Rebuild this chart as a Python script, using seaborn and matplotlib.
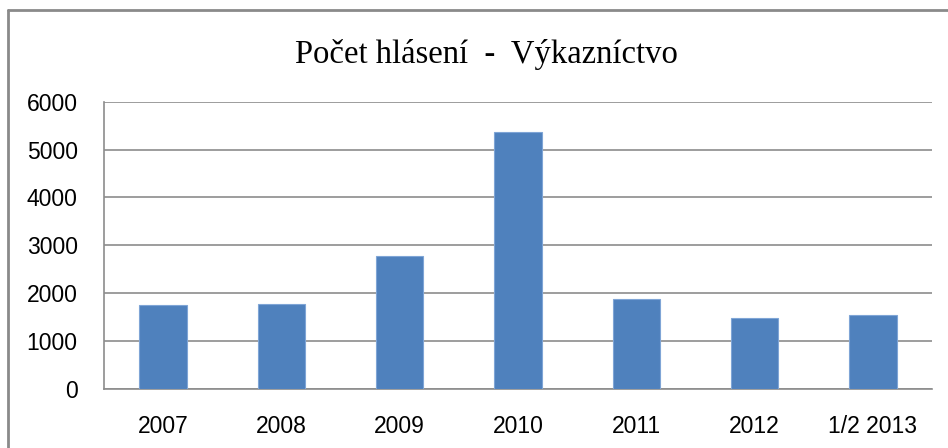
import matplotlib
matplotlib.use("Agg")
import matplotlib.pyplot as plt
import seaborn as sns
import numpy as np
import pandas as pd
from matplotlib.lines import Line2D

categories = ["2007", "2008", "2009", "2010", "2011", "2012", "1/2 2013"]
values = [1745, 1765, 2770, 5358, 1882, 1478, 1535]
yticks = [0, 1000, 2000, 3000, 4000, 5000, 6000]
title = "Počet hlásení  -  Výkazníctvo"

sns.set_style("white")
plt.rcParams['font.family'] = ['Liberation Sans', 'DejaVu Sans']

W, H = 948, 448
fig = plt.figure(figsize=(W / 100, H / 100), dpi=100)
ax = fig.add_axes([104 / W, (H - 388.7) / H, (932 - 104) / W, (388.7 - 101.7) / H])

df = pd.DataFrame({"cat": categories, "val": values})
sns.barplot(data=df, x="cat", y="val", order=categories, color="#4F81BD",
            saturation=1, width=0.4, edgecolor="#7FA5D6", linewidth=0.8, ax=ax, zorder=3)

grid_c = "#8C8C8C"
ax.set_ylim(0, 6000)
ax.set_xlim(-0.5, len(categories) - 0.5)
ax.set_yticks(yticks)
ax.set_yticklabels([str(t) for t in yticks])
ax.yaxis.grid(True, color=grid_c, linewidth=1.2, zorder=0)
ax.set_axisbelow(True)
ax.set_xlabel("")
ax.set_ylabel("")

ax.set_xticks(np.arange(-0.5, len(categories), 1), minor=True)
ax.tick_params(axis="x", which="major", length=0, pad=19, labelsize=16.5, labelcolor="black")
ax.tick_params(axis="x", which="minor", length=8, width=1.2, color=grid_c, direction="out")
ax.tick_params(axis="y", which="major", length=8, width=1.2, color=grid_c, direction="out",
               pad=11, labelsize=16.5, labelcolor="black")

for s in ["top", "right"]:
    ax.spines[s].set_visible(False)
for s in ["left", "bottom"]:
    ax.spines[s].set_color(grid_c)
    ax.spines[s].set_linewidth(1.2)

fig.text(486 / W, 1 - 63 / H, title, ha="center", va="baseline",
         fontsize=23.5, family=["Liberation Serif", "DejaVu Serif"], color="black")

# outer chart border (cropped at right and bottom)
fig.add_artist(Line2D([8 / W, 1.0], [1 - 10.5 / H, 1 - 10.5 / H], transform=fig.transFigure,
                      color="#8A8A8A", linewidth=2))
fig.add_artist(Line2D([8 / W, 8 / W], [0, 1 - 10.5 / H], transform=fig.transFigure,
                      color="#8A8A8A", linewidth=2))

fig.savefig("out.png", dpi=100)
